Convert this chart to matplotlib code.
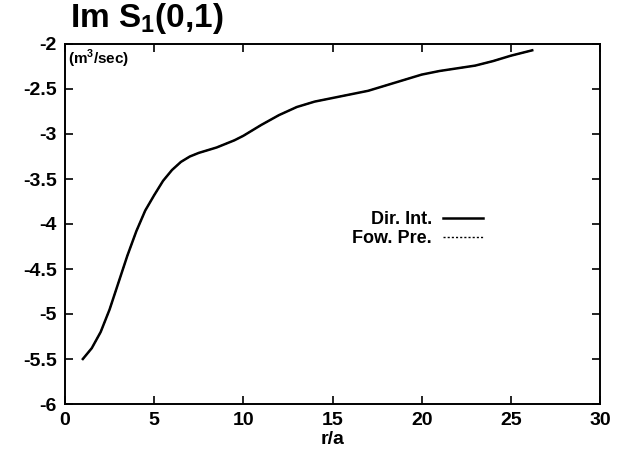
import numpy as np
import matplotlib.pyplot as plt
from matplotlib.ticker import MultipleLocator

# values
r_a = [1.0, 1.5, 2.0, 2.5, 3.0, 3.5, 4.0, 4.5, 5.0, 5.5, 6.0, 6.5, 7.0, 7.5, 8.0,
       8.5, 9.0, 9.5, 10.0, 11.0, 12.0, 13.0, 14.0, 15.0, 16.0, 17.0, 18.0,
       19.0, 20.0, 21.0, 22.0, 23.0, 24.0, 25.0, 26.2]
im_s1 = [-5.50, -5.38, -5.20, -4.95, -4.65, -4.35, -4.08, -3.85, -3.68, -3.52,
         -3.40, -3.31, -3.25, -3.21, -3.18, -3.15, -3.11, -3.07, -3.02, -2.90,
         -2.79, -2.70, -2.64, -2.60, -2.56, -2.52, -2.46, -2.40, -2.34, -2.30,
         -2.27, -2.24, -2.19, -2.13, -2.07]

xticks = [0, 5, 10, 15, 20, 25, 30]
yticks = [-2, -2.5, -3, -3.5, -4, -4.5, -5, -5.5, -6]

plt.rcParams['font.family'] = ['Liberation Sans', 'DejaVu Sans']
plt.rcParams['font.weight'] = 'bold'

fig = plt.figure(figsize=(6.28, 4.61), dpi=100)
ax = fig.add_axes([65 / 628, 1 - 404 / 461, 535 / 628, 360 / 461])

ax.plot(r_a, im_s1, color='black', lw=1.8, label='Dir. Int.')
ax.plot(r_a, im_s1, color='black', lw=1.0, ls=(0, (1.5, 1.5)), label='Fow. Pre.')

ax.set_xlim(0, 30)
ax.set_ylim(-6, -2)
ax.set_xticks(xticks)
ax.set_yticks(yticks)
ax.set_yticklabels([f'{v:g}' for v in yticks])
ax.tick_params(direction='in', top=True, right=True, length=6, width=1.2,
               labelsize=14, pad=6)
for s in ax.spines.values():
    s.set_linewidth(1.4)

ax.set_xlabel('r/a', fontsize=14, fontweight='bold', labelpad=1)
ax.text(0.005, 0.99, '(m$^\\mathregular{3}$/sec)', transform=ax.transAxes, fontsize=11,
        fontweight='bold', va='top', ha='left')
fig.text(70 / 628, 1 - 1 / 461, 'Im S$_\\mathregular{1}$(0,1)', fontsize=24,
         va='top', ha='left')

leg = ax.legend(loc='upper left', bbox_to_anchor=(0.52, 0.56), frameon=False,
                markerfirst=False, fontsize=13, handlelength=2.2,
                labelspacing=0.1, borderpad=0, handletextpad=0.6)
for t in leg.get_texts():
    t.set_ha('right')

fig.savefig('out.png', dpi=100)
